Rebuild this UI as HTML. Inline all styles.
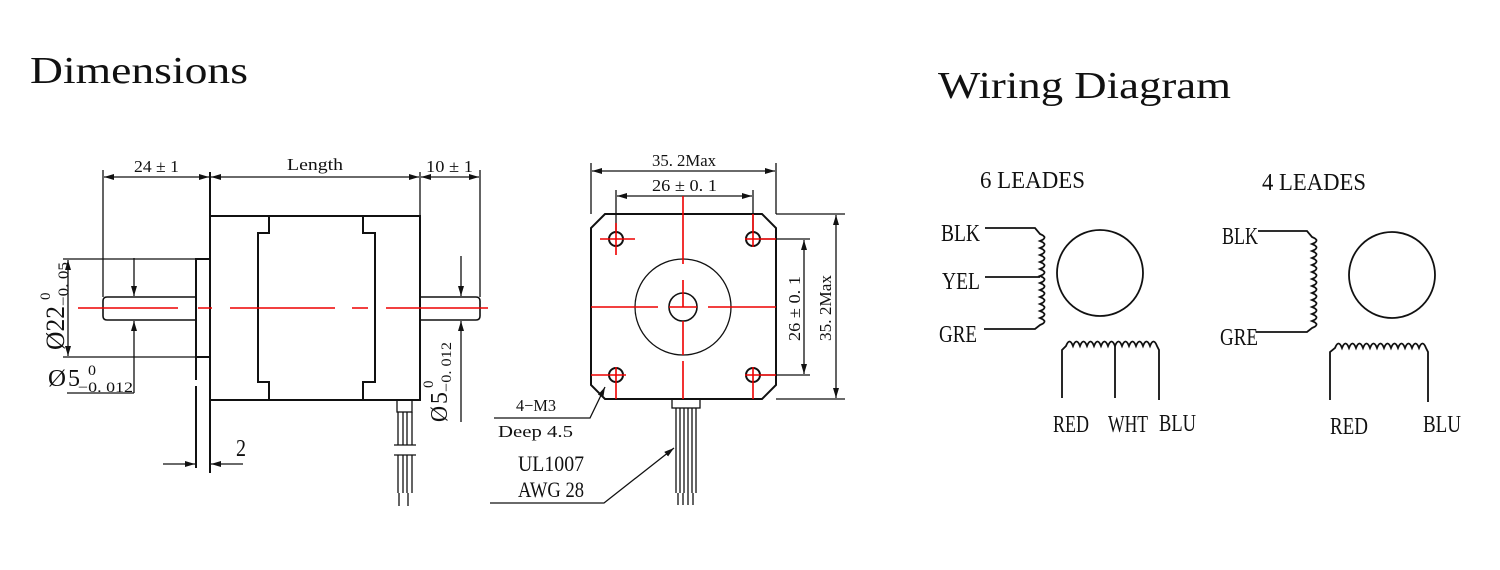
<!DOCTYPE html>
<html><head><meta charset="utf-8"><style>
html,body{margin:0;padding:0;background:#fff;}
svg{display:block;}
text{font-family:"Liberation Serif",serif;fill:#111;}
.t{font-size:24px;}
.s{font-size:17px;}
</style></head><body>
<svg width="1500" height="570" viewBox="0 0 1500 570" xmlns="http://www.w3.org/2000/svg">
<defs>
<marker id="a" viewBox="0 0 10 6" refX="10" refY="3" markerWidth="10" markerHeight="6" markerUnits="userSpaceOnUse" orient="auto-start-reverse"><path d="M0,0 L10,3 L0,6 Z" fill="#111"/></marker>
</defs>
<text x="30" y="83" font-size="38" textLength="218" lengthAdjust="spacingAndGlyphs">Dimensions</text>
<text x="938" y="98" font-size="38" textLength="293" lengthAdjust="spacingAndGlyphs">Wiring Diagram</text>

<g stroke="#111" fill="none" stroke-width="1.3">
<rect x="210" y="216" width="210" height="184" stroke-width="2"/>
<path d="M269,216 V233 H258 V382 H269 V400 M363,216 V233 H375 V382 H363 V400" stroke-width="2"/>
<rect x="196" y="259" width="14" height="98" stroke-width="2"/>
<path d="M196,357 V380 M196,386 V468 M210,172 V473" stroke-width="2"/>
<path d="M196,297 H107 Q103,297 103,301 V316 Q103,320 107,320 H196" stroke-width="1.6"/>
<path d="M420,297 H476 Q480,297 480,301 V316 Q480,320 476,320 H420" stroke-width="1.6"/>
<path d="M103,170 V297 M420,172 V216 M480,170 V297"/>
<path d="M104,177 H209" marker-start="url(#a)" marker-end="url(#a)"/>
<path d="M211,177 H419" marker-start="url(#a)" marker-end="url(#a)"/>
<path d="M421,177 H479" marker-start="url(#a)" marker-end="url(#a)"/>
<path d="M63,259 H196 M63,357 H196"/>
<path d="M68,260 V356" marker-start="url(#a)" marker-end="url(#a)"/>
<path d="M134,258 V296" marker-end="url(#a)"/>
<path d="M134,393 V321" marker-end="url(#a)"/>
<path d="M67,393 H134"/>
<path d="M461,256 V296" marker-end="url(#a)"/>
<path d="M461,422 V321" marker-end="url(#a)"/>
<path d="M163,464 H195" marker-end="url(#a)"/>
<path d="M243,464 H211" marker-end="url(#a)"/>
<rect x="397" y="400" width="15" height="12"/>
<path d="M398,412 V445 M403,412 V445 M407,412 V445 M412,412 V445 M394,445 H416 M394,455 H416 M398,455 V493 M403,455 V493 M407,455 V493 M412,455 V493 M399,493 V506 M408,493 V506"/>

<path d="M605,214 H762 L776,228 V385 L762,399 H605 L591,385 V228 Z" stroke-width="2"/>
<circle cx="616" cy="239" r="7" stroke-width="2"/>
<circle cx="753" cy="239" r="7" stroke-width="2"/>
<circle cx="616" cy="375" r="7" stroke-width="2"/>
<circle cx="753" cy="375" r="7" stroke-width="2"/>
<circle cx="683" cy="307" r="48"/>
<circle cx="683" cy="307" r="14" stroke-width="1.6"/>
<path d="M591,163 V214 M776,163 V214 M616,190 V232 M753,190 V232"/>
<path d="M592,171 H775" marker-start="url(#a)" marker-end="url(#a)"/>
<path d="M617,196 H752" marker-start="url(#a)" marker-end="url(#a)"/>
<path d="M760,239 H810 M760,375 H810 M776,214 H845 M776,399 H845"/>
<path d="M804,240 V374" marker-start="url(#a)" marker-end="url(#a)"/>
<path d="M836,215 V398" marker-start="url(#a)" marker-end="url(#a)"/>
<rect x="672" y="399" width="28" height="9"/>
<path d="M676,408 V493 M680,408 V493 M684,408 V493 M688,408 V493 M692,408 V493 M696,408 V493 M678,493 V505 M683,493 V505 M688,493 V505 M693,493 V505"/>
<path d="M494,418 H590 L605,387" marker-end="url(#a)"/>
<path d="M490,503 H604 L674,448" marker-end="url(#a)"/>

<path d="M985,228 H1035 L1040,234 q9,3.5 0,7 q9,3.5 0,7 q9,3.5 0,7 q9,3.5 0,7 q9,3.5 0,7 q9,3.5 0,7 q9,3.5 0,7 q9,3.5 0,7 q9,3.5 0,7 q9,3.5 0,7 q9,3.5 0,7 q9,3.5 0,7 q9,3.5 0,7 L1035,329 H984" stroke-width="1.8"/>
<path d="M985,277 H1040" stroke-width="1.8"/>
<circle cx="1100" cy="273" r="43" stroke-width="1.8"/>
<path d="M1062,398 V350 L1066,346 q3.5,-9 7,0 q3.5,-9 7,0 q3.5,-9 7,0 q3.5,-9 7,0 q3.5,-9 7,0 q3.5,-9 7,0 q3.5,-9 7,0 q3.5,-9 7,0 q3.5,-9 7,0 q3.5,-9 7,0 q3.5,-9 7,0 q3.5,-9 7,0 q3.5,-9 7,0 L1159,350 V400" stroke-width="1.8"/>
<path d="M1115,346 V398" stroke-width="1.8"/>
<path d="M1258,231 H1307 L1312,237 q9,3.5 0,7 q9,3.5 0,7 q9,3.5 0,7 q9,3.5 0,7 q9,3.5 0,7 q9,3.5 0,7 q9,3.5 0,7 q9,3.5 0,7 q9,3.5 0,7 q9,3.5 0,7 q9,3.5 0,7 q9,3.5 0,7 q9,3.5 0,7 L1307,332 H1256" stroke-width="1.8"/>
<circle cx="1392" cy="275" r="43" stroke-width="1.8"/>
<path d="M1330,400 V352 L1335,348 q3.5,-9 7,0 q3.5,-9 7,0 q3.5,-9 7,0 q3.5,-9 7,0 q3.5,-9 7,0 q3.5,-9 7,0 q3.5,-9 7,0 q3.5,-9 7,0 q3.5,-9 7,0 q3.5,-9 7,0 q3.5,-9 7,0 q3.5,-9 7,0 q3.5,-9 7,0 L1428,352 V402" stroke-width="1.8"/>
</g>

<g stroke="#e00" stroke-width="1.6" fill="none">
<path d="M78,308 H178 M198,308 H212 M230,308 H335 M352,308 H368 M386,308 H488" />
<path d="M683,196 V264 M683,280 V307 M683,321 V355 M683,361 V399 M591,307 H658 M669,307 H697 M708,307 H776"/>
<path d="M600,239 H635 M616,223 V255 M745,239 H776 M753,214 V247 M591,375 H626 M616,367 V399 M745,375 H776 M753,367 V399"/>
</g>

<text class="s" x="134" y="172" textLength="45" lengthAdjust="spacingAndGlyphs">24 ± 1</text>
<text class="s" x="287" y="170" textLength="56" lengthAdjust="spacingAndGlyphs">Length</text>
<text class="s" x="426" y="172" textLength="47" lengthAdjust="spacingAndGlyphs">10 ± 1</text>
<text x="236" y="456" font-size="24" textLength="10" lengthAdjust="spacingAndGlyphs">2</text>
<text x="48" y="386" font-size="24" textLength="18" lengthAdjust="spacingAndGlyphs">Ø</text>
<text x="68" y="386" font-size="24" textLength="12" lengthAdjust="spacingAndGlyphs">5</text>
<text x="88" y="375" font-size="15" textLength="8" lengthAdjust="spacingAndGlyphs">0</text>
<text x="78" y="392" font-size="15" textLength="55" lengthAdjust="spacingAndGlyphs">−0. 012</text>
<g transform="translate(64,350) rotate(-90)">
<text x="0" y="0" font-size="26" textLength="44" lengthAdjust="spacingAndGlyphs">Ø22</text>
<text x="50" y="-14" font-size="15">0</text>
<text x="44" y="4" font-size="15" textLength="44" lengthAdjust="spacingAndGlyphs">−0. 05</text>
</g>
<g transform="translate(447,422) rotate(-90)">
<text x="0" y="0" font-size="24" textLength="16" lengthAdjust="spacingAndGlyphs">Ø</text>
<text x="18" y="0" font-size="24" textLength="12" lengthAdjust="spacingAndGlyphs">5</text>
<text x="34" y="-14" font-size="15">0</text>
<text x="30" y="4" font-size="15" textLength="50" lengthAdjust="spacingAndGlyphs">−0. 012</text>
</g>
<text class="s" x="652" y="166" textLength="64" lengthAdjust="spacingAndGlyphs">35. 2Max</text>
<text class="s" x="652" y="191" textLength="65" lengthAdjust="spacingAndGlyphs">26 ± 0. 1</text>
<text class="s" transform="translate(800,341) rotate(-90)" textLength="65" lengthAdjust="spacingAndGlyphs">26 ± 0. 1</text>
<text class="s" transform="translate(831,341) rotate(-90)" textLength="66" lengthAdjust="spacingAndGlyphs">35. 2Max</text>
<text class="s" x="516" y="411" textLength="40" lengthAdjust="spacingAndGlyphs">4−M3</text>
<text class="s" x="498" y="437" textLength="75" lengthAdjust="spacingAndGlyphs">Deep 4.5</text>
<text x="518" y="471" font-size="22" textLength="66" lengthAdjust="spacingAndGlyphs">UL1007</text>
<text x="518" y="497" font-size="22" textLength="66" lengthAdjust="spacingAndGlyphs">AWG 28</text>
<text class="t" x="980" y="188" textLength="105" lengthAdjust="spacingAndGlyphs">6  LEADES</text>
<text class="t" x="1262" y="190" textLength="104" lengthAdjust="spacingAndGlyphs">4  LEADES</text>
<text class="t" x="941" y="241" textLength="39" lengthAdjust="spacingAndGlyphs">BLK</text>
<text class="t" x="942" y="289" textLength="38" lengthAdjust="spacingAndGlyphs">YEL</text>
<text class="t" x="939" y="342" textLength="38" lengthAdjust="spacingAndGlyphs">GRE</text>
<text class="t" x="1053" y="432" textLength="36" lengthAdjust="spacingAndGlyphs">RED</text>
<text class="t" x="1108" y="432" textLength="40" lengthAdjust="spacingAndGlyphs">WHT</text>
<text class="t" x="1159" y="431" textLength="37" lengthAdjust="spacingAndGlyphs">BLU</text>
<text class="t" x="1222" y="244" textLength="36" lengthAdjust="spacingAndGlyphs">BLK</text>
<text class="t" x="1220" y="345" textLength="38" lengthAdjust="spacingAndGlyphs">GRE</text>
<text class="t" x="1330" y="434" textLength="38" lengthAdjust="spacingAndGlyphs">RED</text>
<text class="t" x="1423" y="432" textLength="38" lengthAdjust="spacingAndGlyphs">BLU</text>
</svg>
</body></html>
